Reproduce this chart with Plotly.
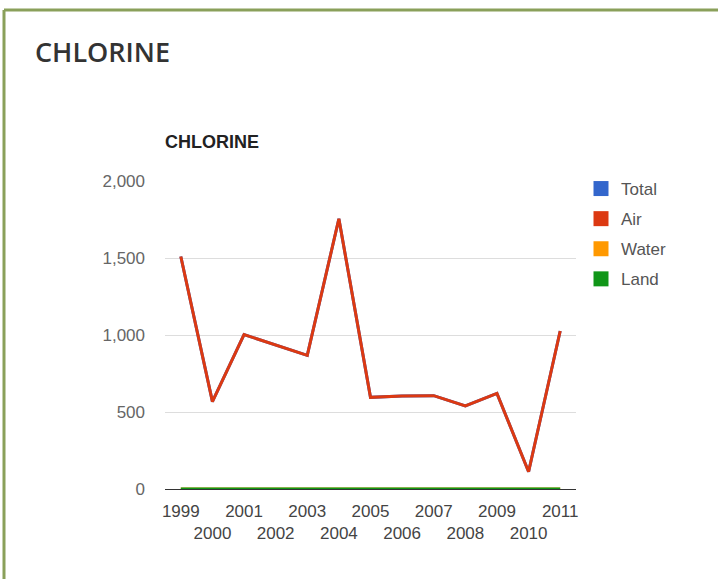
import plotly.graph_objects as go

years = [1999, 2000, 2001, 2002, 2003, 2004, 2005, 2006, 2007, 2008, 2009, 2010, 2011]
air = [1510, 567, 1003, 935, 868, 1755, 595, 604, 606, 539, 621, 112, 1026]
water = [0] * 13
land = [0] * 13
total = [a + w + l for a, w, l in zip(air, water, land)]

series_names = ["Total", "Air", "Water", "Land"]
series_colors = ["#3366cc", "#dc3912", "#ff9900", "#109618"]
series_values = [total, air, water, land]
y_ticks = [0, 500, 1000, 1500, 2000]

W, H = 718, 579
L, R, T, B = 165, 576, 181, 489  # plot area in pixels

x_idx = list(range(len(years)))
tick_text = [str(y) if i % 2 == 0 else "<br>" + str(y) for i, y in enumerate(years)]

fig = go.Figure()
for name, color, vals in zip(series_names, series_colors, series_values):
    fig.add_trace(go.Scatter(
        x=x_idx, y=vals, mode="lines", name=name,
        line=dict(color=color, width=3), showlegend=False, hoverinfo="x+y+name",
    ))
for name, color in zip(series_names, series_colors):
    fig.add_trace(go.Scatter(
        x=[None], y=[None], mode="markers", name=name, legendgroup=name,
        marker=dict(symbol="square", size=15, color=color), showlegend=True,
    ))

def px_x(p):
    return (p - L) / (R - L)

def px_y(p):
    return (B - p) / (B - T)

fig.update_layout(
    width=W, height=H,
    margin=dict(l=L, r=W - R, t=T, b=H - B, pad=0),
    paper_bgcolor="white", plot_bgcolor="white",
    font=dict(family="Liberation Sans, Arial, sans-serif", color="#555555", size=15),
    xaxis=dict(
        tickmode="array", tickvals=x_idx, ticktext=tick_text, tickangle=0,
        range=[-0.5, len(years) - 0.5], showgrid=False, zeroline=False,
        showline=False, ticks="", tickfont=dict(size=17, color="#444444"),
        ticklabelstandoff=10, fixedrange=True, automargin=False,
    ),
    yaxis=dict(
        tickmode="array", tickvals=y_ticks,
        ticktext=[f"{v:,}" for v in y_ticks], range=[0, 2000],
        showgrid=True, gridcolor="#dddddd", gridwidth=1,
        zeroline=True, zerolinecolor="#333333", zerolinewidth=1,
        showline=False, ticks="", ticklabelstandoff=19,
        tickfont=dict(size=17, color="#666666"), fixedrange=True,
    ),
    legend=dict(
        x=px_x(581), y=px_y(171), xanchor="left", yanchor="top",
        font=dict(size=17, color="#555555"), traceorder="grouped",
        tracegroupgap=5, bgcolor="rgba(0,0,0,0)", itemwidth=30,
    ),
    showlegend=True,
)

fig.add_annotation(
    text="CHLORINE", xref="paper", yref="paper", x=px_x(33), y=px_y(51),
    xanchor="left", yanchor="middle", showarrow=False,
    font=dict(family="Open Sans, sans-serif", size=27, color="#333333", weight=600),
)
fig.add_annotation(
    text="<b>CHLORINE</b>", xref="paper", yref="paper", x=px_x(163), y=px_y(142),
    xanchor="left", yanchor="middle", showarrow=False,
    font=dict(family="Liberation Sans, Arial, sans-serif", size=18, color="#222222"),
)

border = "#8aa05a"
fig.add_shape(type="line", xref="paper", yref="paper",
              x0=px_x(4), x1=px_x(W + 5), y0=px_y(10), y1=px_y(10),
              line=dict(color=border, width=3))
fig.add_shape(type="line", xref="paper", yref="paper",
              x0=px_x(4), x1=px_x(4), y0=px_y(10), y1=px_y(H + 5),
              line=dict(color=border, width=3))

fig.write_html("out.html")
